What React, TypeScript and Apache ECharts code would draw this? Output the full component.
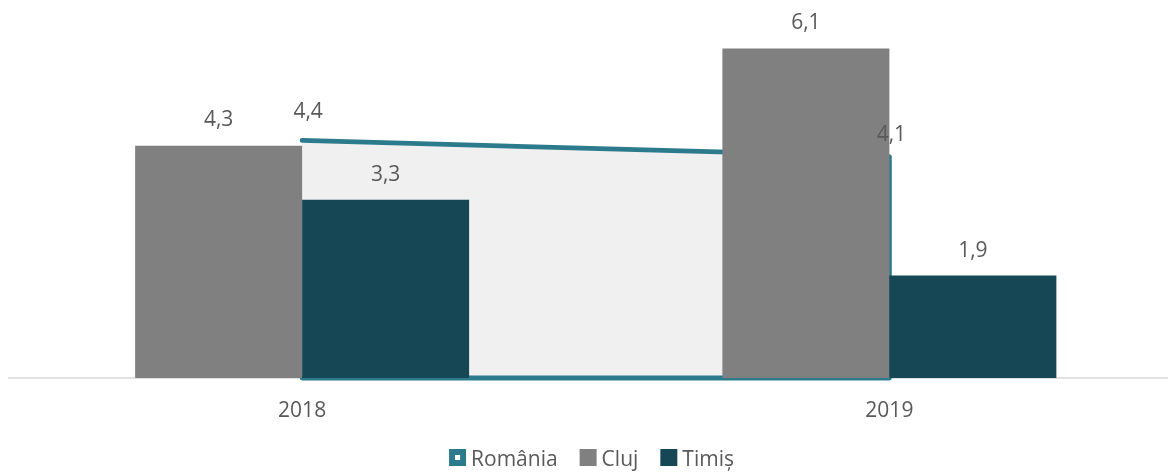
import React, { useEffect, useRef } from "react";
import * as echarts from "echarts";

const categories = ["2018", "2019"];
const romaniaValues = [4.4, 4.1];
const clujValues = [4.3, 6.1];
const timisValues = [3.3, 1.9];

const FONT = "'Open Sans', 'Noto Sans', sans-serif";
const TEXT = "#595959";
const TEAL = "#2c7b8d";
const CLUJ = "#808080";
const TIMIS = "#154854";
const FILL = "#f0f0f0";
const FS = 21;
// manual label offsets for the România labels (Excel-like placement)
const romaniaLabelOffsets = [
  [6, -30],
  [2, -24],
];

const fmt = (v: number) => v.toFixed(1).replace(".", ",");

export default function App() {
  const ref = useRef<HTMLDivElement>(null);
  useEffect(() => {
    const chart = echarts.init(ref.current!, null, { renderer: "svg" });
    chart.setOption({
      animation: false,
      textStyle: { fontFamily: FONT },
      grid: { left: 8.5, right: 0, top: 0, bottom: 95 },
      xAxis: {
        type: "category",
        data: categories,
        boundaryGap: true,
        axisLine: { show: true, lineStyle: { color: "#d9d9d9", width: 1.5 } },
        axisTick: { show: false },
        axisLabel: { color: TEXT, fontSize: FS, fontFamily: FONT, margin: 20 },
      },
      yAxis: {
        type: "value",
        min: 0,
        max: 7,
        show: false,
        splitLine: { show: false },
      },
      legend: {
        bottom: 0,
        left: "center",
        itemWidth: 17,
        itemHeight: 17,
        itemGap: 22,
        textStyle: { color: TEXT, fontSize: FS, fontFamily: FONT },
        data: [
          {
            name: "România",
            icon: "path://M0,0H10V10H0Z M3.5,3.5V6.5H6.5V3.5Z",
            itemStyle: { color: TEAL, borderWidth: 0 },
          },
          { name: "Cluj", icon: "rect" },
          { name: "Timiș", icon: "rect" },
        ],
      },
      series: [
        {
          name: "România",
          type: "custom",
          z: 1,
          data: romaniaValues,
          itemStyle: { color: TEAL },
          renderItem: (params: any, api: any) => {
            if (params.dataIndex !== 0) return null;
            const tl = api.coord([0, romaniaValues[0]]);
            const tr = api.coord([1, romaniaValues[1]]);
            const br = api.coord([1, 0]);
            const bl = api.coord([0, 0]);
            return {
              type: "group",
              children: [
                {
                  type: "polygon",
                  shape: { points: [tl, tr, br, bl] },
                  style: { fill: FILL, stroke: "none" },
                },
                {
                  type: "polyline",
                  shape: { points: [tl, tr, br, bl] },
                  style: {
                    fill: "none",
                    stroke: TEAL,
                    lineWidth: 4.8,
                    lineJoin: "round",
                    lineCap: "round",
                  },
                },
              ],
            };
          },
        },
        {
          name: "Cluj",
          type: "bar",
          z: 2,
          data: clujValues,
          barWidth: 167,
          barGap: "0%",
          itemStyle: { color: CLUJ },
          label: {
            show: true,
            position: "top",
            distance: 17,
            color: TEXT,
            fontSize: FS,
            fontFamily: FONT,
            formatter: (p: any) => fmt(p.value),
          },
        },
        {
          name: "Timiș",
          type: "bar",
          z: 2,
          data: timisValues,
          barWidth: 167,
          barGap: "0%",
          itemStyle: { color: TIMIS },
          label: {
            show: true,
            position: "top",
            distance: 16,
            color: TEXT,
            fontSize: FS,
            fontFamily: FONT,
            formatter: (p: any) => fmt(p.value),
          },
        },
        {
          name: "România",
          type: "custom",
          z: 5,
          data: romaniaValues,
          itemStyle: { color: TEAL },
          renderItem: (params: any, api: any) => {
            const i = params.dataIndex;
            const p = api.coord([i, romaniaValues[i]]);
            const off = romaniaLabelOffsets[i];
            return {
              type: "text",
              x: p[0] + off[0],
              y: p[1] + off[1],
              style: {
                text: fmt(romaniaValues[i]),
                fill: TEXT,
                font: `${FS}px ${FONT}`,
                align: "center",
                verticalAlign: "middle",
              },
            };
          },
        },
      ],
    });
    return () => chart.dispose();
  }, []);
  return (
    <div
      style={{
        position: "fixed",
        left: 0,
        top: 0,
        width: 1168,
        height: 473,
        overflow: "hidden",
      }}
    >
      <div ref={ref} style={{ width: 1183, height: 473 }} />
    </div>
  );
}
